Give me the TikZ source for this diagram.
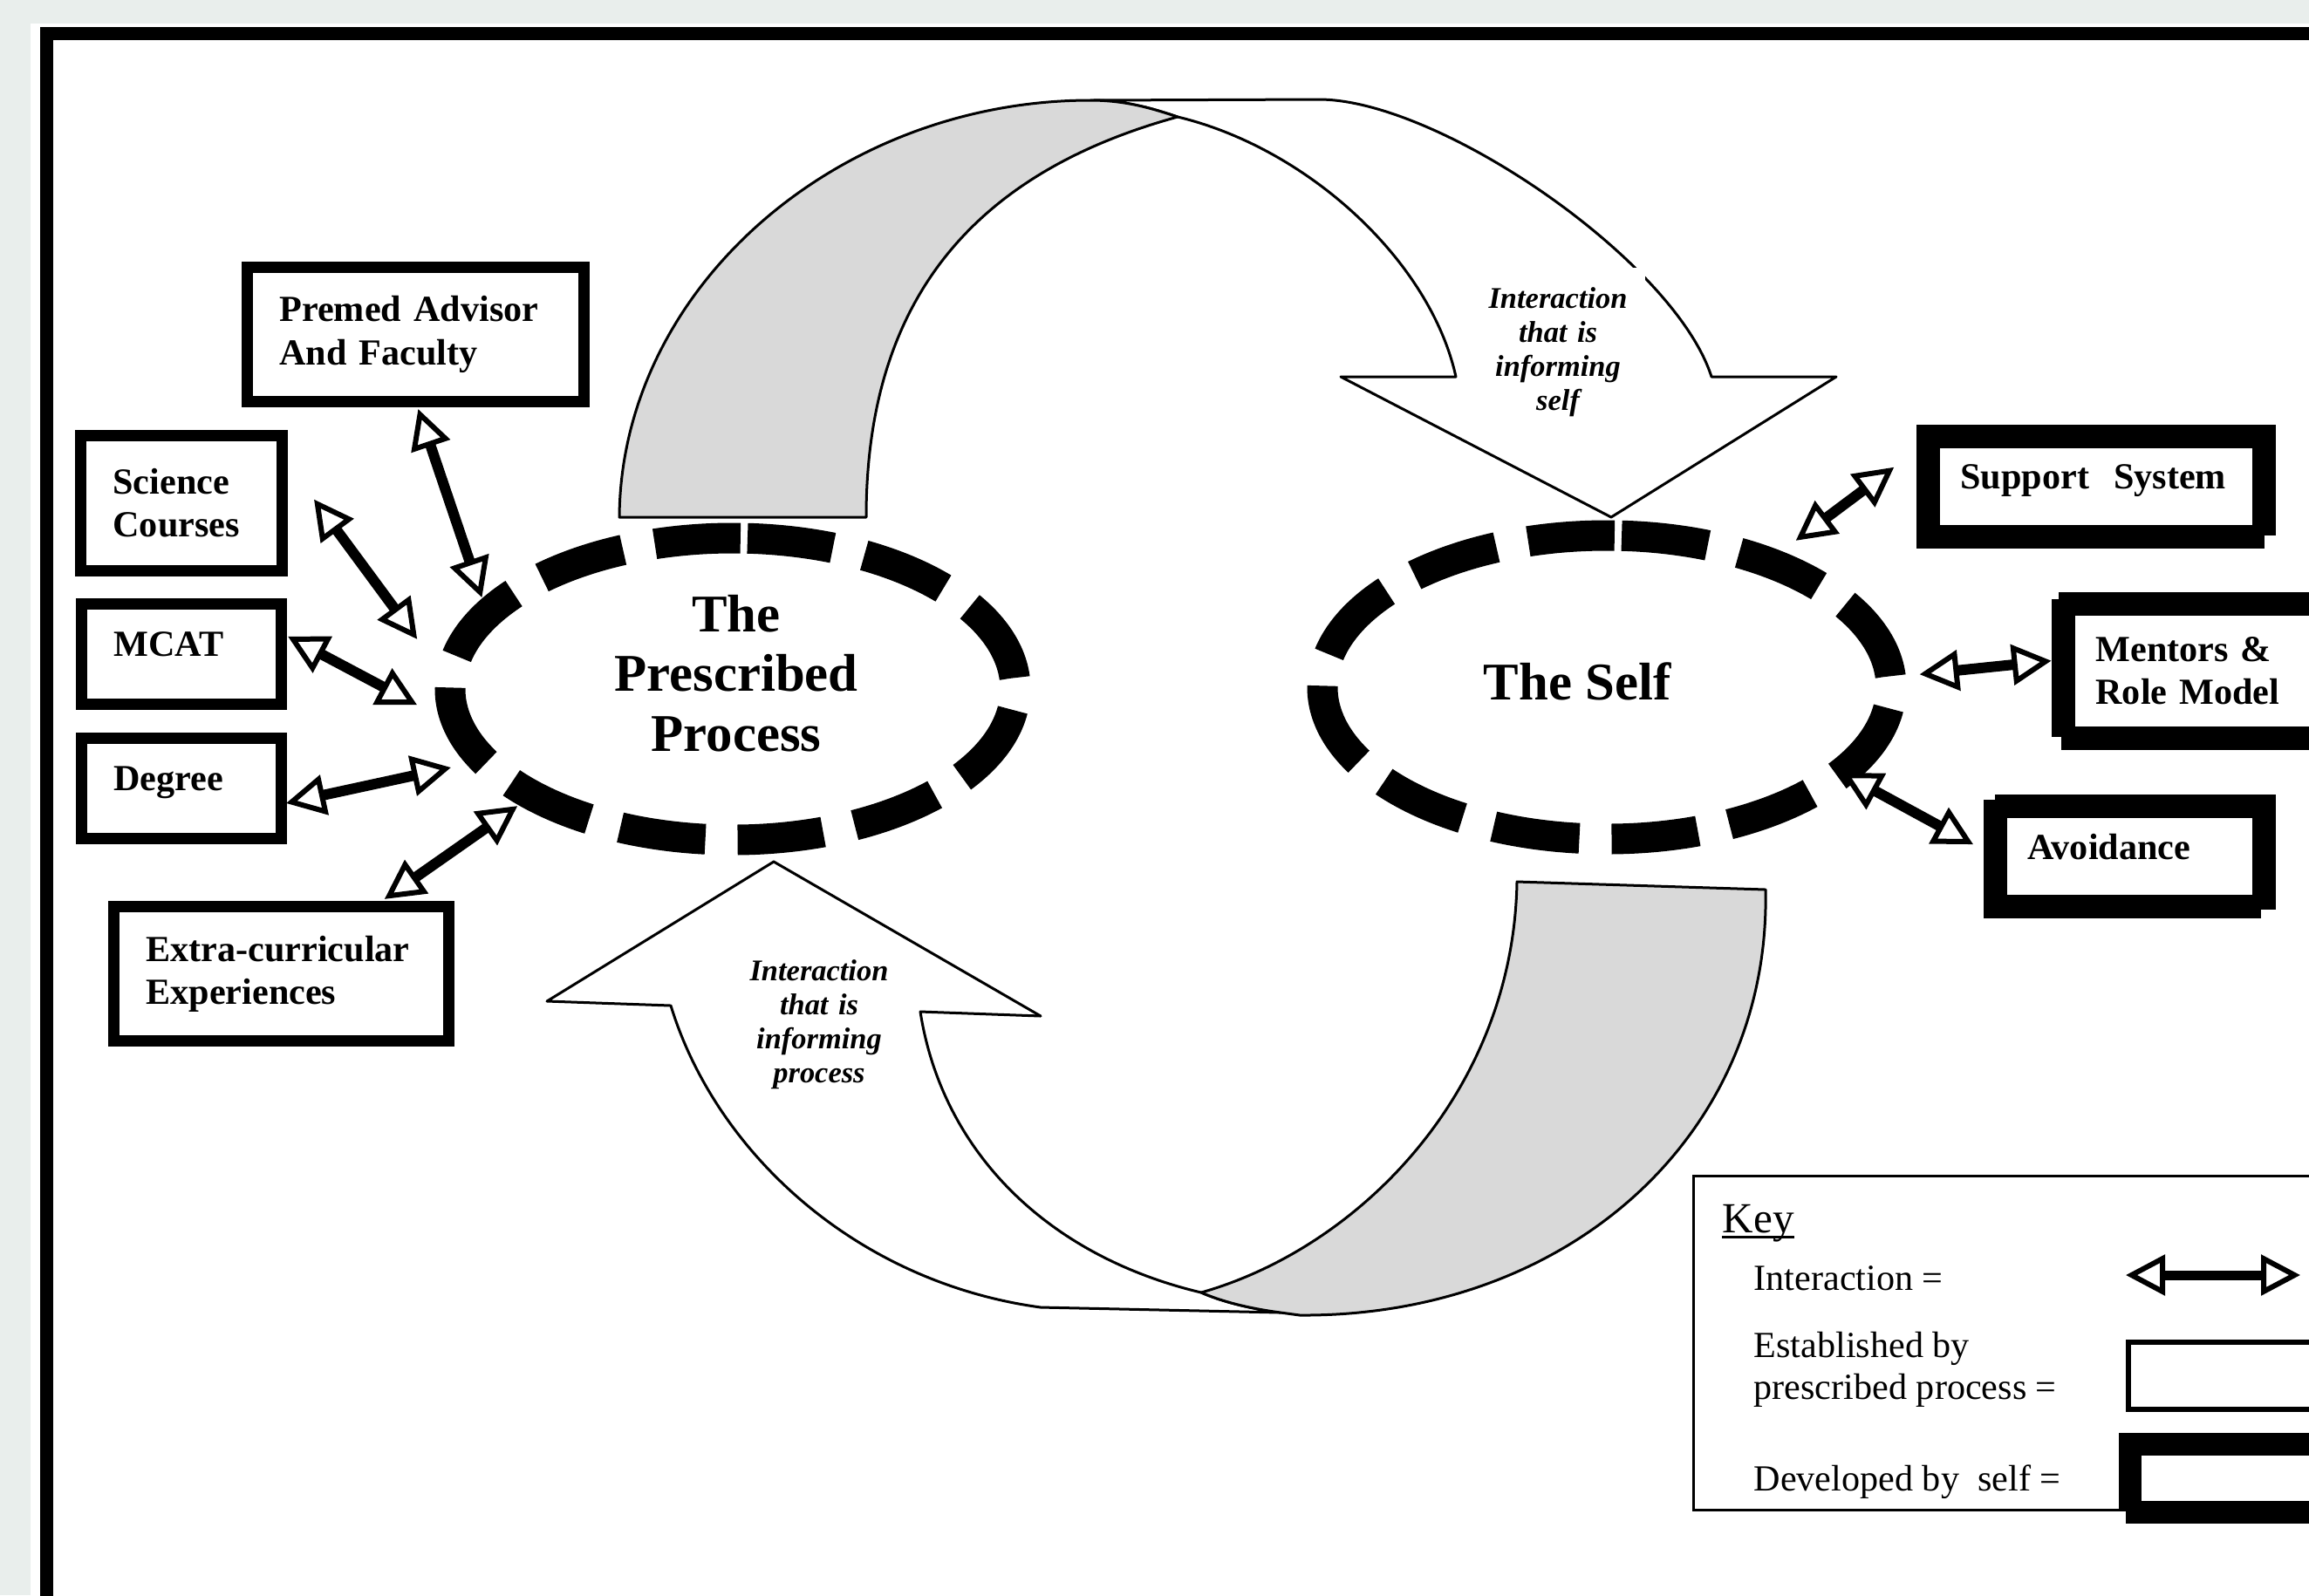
\documentclass[tikz,border=0pt]{standalone}
\usepackage{fontspec}
\setmainfont{Liberation Serif}
\usepackage{tikz}
\usetikzlibrary{arrows.meta,shapes.geometric,calc}
\definecolor{margingray}{RGB}{233,238,236}
\definecolor{ribbongray}{RGB}{217,217,217}

\begin{document}
\begin{tikzpicture}[
  probox/.style={draw, line width=0.13cm, outer sep=0pt, inner xsep=0.37cm, inner ysep=0pt,
    align=left, font=\bfseries\fontsize{12}{14}\selectfont},
  selfbox/.style={probox, line width=0.27cm},
  ring/.style={ellipse, inner sep=0pt, outer sep=0pt},
  ringline/.style={line width=0.35cm, dash pattern=on #1 off 0.37cm},
  ringtext/.style={align=center, inner sep=0pt, font=\bfseries\fontsize{17.3}{19.4}\selectfont},
  ribbon/.style={line width=0.03cm, line join=round},
  flowlabel/.style={fill=white, text width=1.6cm, inner xsep=0.2cm, inner ysep=0.225cm,
    align=center, font=\bfseries\itshape\fontsize{9.8}{11.1}\selectfont},
  inter/.style={line width=0.12cm,
    >={Triangle[fill=white, length=0.45cm, width=0.46cm, line width=0.06cm]}, <->},
  keytext/.style={inner sep=0pt, align=left, font=\fontsize{12}{13.9}\selectfont}
]
\useasboundingbox (0,0) rectangle (26.47,-18.29);
\clip (0,0) rectangle (26.47,-18.29);

% page and frame
\fill[margingray] (0,0) rectangle (26.47,-18.29);
\fill[white] (0.35,-0.27) rectangle (26.47,-18.29);
\draw[line width=0.15cm] (0.535,-0.38) rectangle (28,-20);

% upper ribbon: process -> self
\draw[ribbon, fill=white] (12.50,-1.15) -- (15.12,-1.14)
  .. controls (16.50,-1.14) and (19.20,-3.00) .. (19.62,-4.32)
  -- (21.05,-4.32) -- (18.47,-5.93) -- (15.37,-4.32) -- (16.69,-4.32)
  .. controls (16.40,-3.00) and (15.00,-1.70) .. (13.50,-1.34)
  .. controls (13.20,-1.24) and (12.90,-1.15) .. (12.50,-1.15) -- cycle;
\draw[ribbon, fill=ribbongray] (7.10,-5.93) -- (9.93,-5.93)
  .. controls (9.93,-3.50) and (11.10,-2.00) .. (13.50,-1.34)
  .. controls (13.20,-1.24) and (12.90,-1.15) .. (12.50,-1.15)
  .. controls (9.60,-1.15) and (7.12,-3.30) .. (7.10,-5.93) -- cycle;

% lower ribbon: self -> process
\draw[ribbon, fill=white] (11.93,-14.99) -- (14.68,-15.05)
  .. controls (14.30,-15.00) and (14.00,-14.92) .. (13.77,-14.82)
  .. controls (12.00,-14.40) and (10.80,-13.20) .. (10.55,-11.60)
  -- (11.93,-11.65) -- (8.87,-9.88) -- (6.27,-11.48) -- (7.69,-11.53)
  .. controls (8.20,-13.20) and (9.80,-14.70) .. (11.93,-14.99) -- cycle;
\draw[ribbon, fill=ribbongray] (17.39,-10.11) -- (20.24,-10.20)
  .. controls (20.30,-13.00) and (18.00,-15.10) .. (14.90,-15.08)
  -- (14.68,-15.05)
  .. controls (14.30,-15.00) and (14.00,-14.92) .. (13.77,-14.82)
  .. controls (15.60,-14.30) and (17.35,-12.50) .. (17.39,-10.11) -- cycle;

% the two rings
\node[ring, minimum width=6.48cm, minimum height=3.46cm] (pro) at (8.40,-7.90) {};
\node[ring, minimum width=6.52cm, minimum height=3.48cm] (slf) at (18.42,-7.88) {};
\draw[ringline=0.9856cm] (pro.center) ++(87:3.24cm and 1.73cm)
  arc[start angle=87, delta angle=-360, x radius=3.24cm, y radius=1.73cm];
\draw[ringline=0.9936cm] (slf.center) ++(87:3.26cm and 1.74cm)
  arc[start angle=87, delta angle=-360, x radius=3.26cm, y radius=1.74cm];
\node[ringtext] (protext) at (8.44,-7.72) {The\\Prescribed\\Process};
\node[ringtext] (slftext) at (18.08,-7.81) {The Self};

% boxes set by the prescribed process
\node[probox, text width=3.12cm, minimum width=3.86cm, minimum height=1.54cm] (premed) at (4.765,-3.835) {Premed Advisor\\And Faculty};
\node[probox, text width=1.57cm, minimum width=2.31cm, minimum height=1.55cm] (sci) at (2.08,-5.77) {Science\\Courses};
\node[probox, text width=1.55cm, minimum width=2.29cm, minimum height=1.15cm, text depth=6.5pt] (mcat) at (2.08,-7.50) {MCAT};
\node[probox, text width=1.55cm, minimum width=2.29cm, minimum height=1.15cm, text depth=6.5pt] (deg) at (2.08,-9.04) {Degree};
\node[probox, text width=3.10cm, minimum width=3.84cm, minimum height=1.54cm] (ext) at (3.225,-11.165) {Extra-curricular\\Experiences};

% boxes developed by the self
\node[selfbox, text width=3.11cm, minimum width=3.85cm, minimum height=1.15cm, text depth=6.5pt] (sup) at (24.03,-5.58) {Support\ \ System};
\node[selfbox, text width=3.07cm, minimum width=3.81cm, minimum height=1.54cm] (men) at (25.56,-7.695) {Mentors \&\\Role Model};
\node[selfbox, text width=2.34cm, minimum width=3.08cm, minimum height=1.15cm, text depth=6.5pt] (avd) at (24.415,-9.82) {Avoidance};

% interactions
\draw[inter, shorten <=0.09cm, shorten >=0.20cm] (premed.south) -- (pro.163);
\draw[inter, shorten <=0.615cm, shorten >=0.64cm] (sci.25) -- (pro.179);
\draw[inter, shorten <=0.085cm, shorten >=0.55cm] (mcat.12) -- (pro.188);
\draw[inter, shorten <=0.056cm, shorten >=0.385cm] (deg.-9.5) -- (pro.196);
\draw[inter, shorten <=0.15cm, shorten >=0.21cm] (ext.36) -- (pro.208);
\draw[inter, shorten <=0.41cm, shorten >=0.49cm] (slf.38.7) -- (sup.165);
\draw[inter, shorten <=0.335cm, shorten >=0.14cm] (slf.2.1) -- (men.176.8);
\draw[inter, shorten >=0.29cm] (slf.-20.6) -- (avd.west);

\node[flowlabel, anchor=north] (upl) at (17.86,-3.06) {Interaction\\that is\\informing\\self};
\node[flowlabel, anchor=north] (lowl) at (9.39,-10.77) {Interaction\\that is\\informing\\process};

% key
\node[draw, line width=0.03cm, outer sep=0pt, minimum width=8cm, minimum height=3.83cm, anchor=north west] (key) at (19.415,-13.485) {};
\node[keytext, font=\fontsize{14}{16}\selectfont, anchor=base west] (keyhd) at (19.74,-14.13) {Key};
\draw[line width=0.03cm] ([yshift=-0.05cm]keyhd.base west) -- ([yshift=-0.05cm]keyhd.base east);
\node[keytext, anchor=base west] (kint) at (20.10,-14.79) {Interaction =};
\node[keytext, anchor=north west] (kest) at (20.10,-15.26) {Established by\\prescribed process =};
\node[keytext, anchor=base west] (kdev) at (20.10,-17.09) {Developed by\ \ self =};
\coordinate (kal) at (24.37,-14.62);
\coordinate (kar) at (26.37,-14.62);
\draw[inter, line width=0.11cm] (kal) -- (kar);
\node[draw, line width=0.06cm, outer sep=0pt, minimum width=4cm, minimum height=0.77cm, anchor=north west] (kpro) at (24.40,-15.39) {};
\node[draw, line width=0.265cm, outer sep=0pt, minimum width=4cm, minimum height=0.78cm, anchor=north west] (kself) at (24.42,-16.56) {};

% notches left by the doubled outlines
\foreach \x/\y/\w/\h in {25.96/-6.14/0.13/0.15, 23.52/-6.79/0.08/0.08, 23.52/-8.45/0.11/0.15,
  22.74/-9.11/0.13/0.06, 25.92/-10.43/0.17/0.10, 24.29/-17.33/0.08/0.14}
  \fill[white] (\x,\y) rectangle ++(\w,-\h);
\end{tikzpicture}
\end{document}
